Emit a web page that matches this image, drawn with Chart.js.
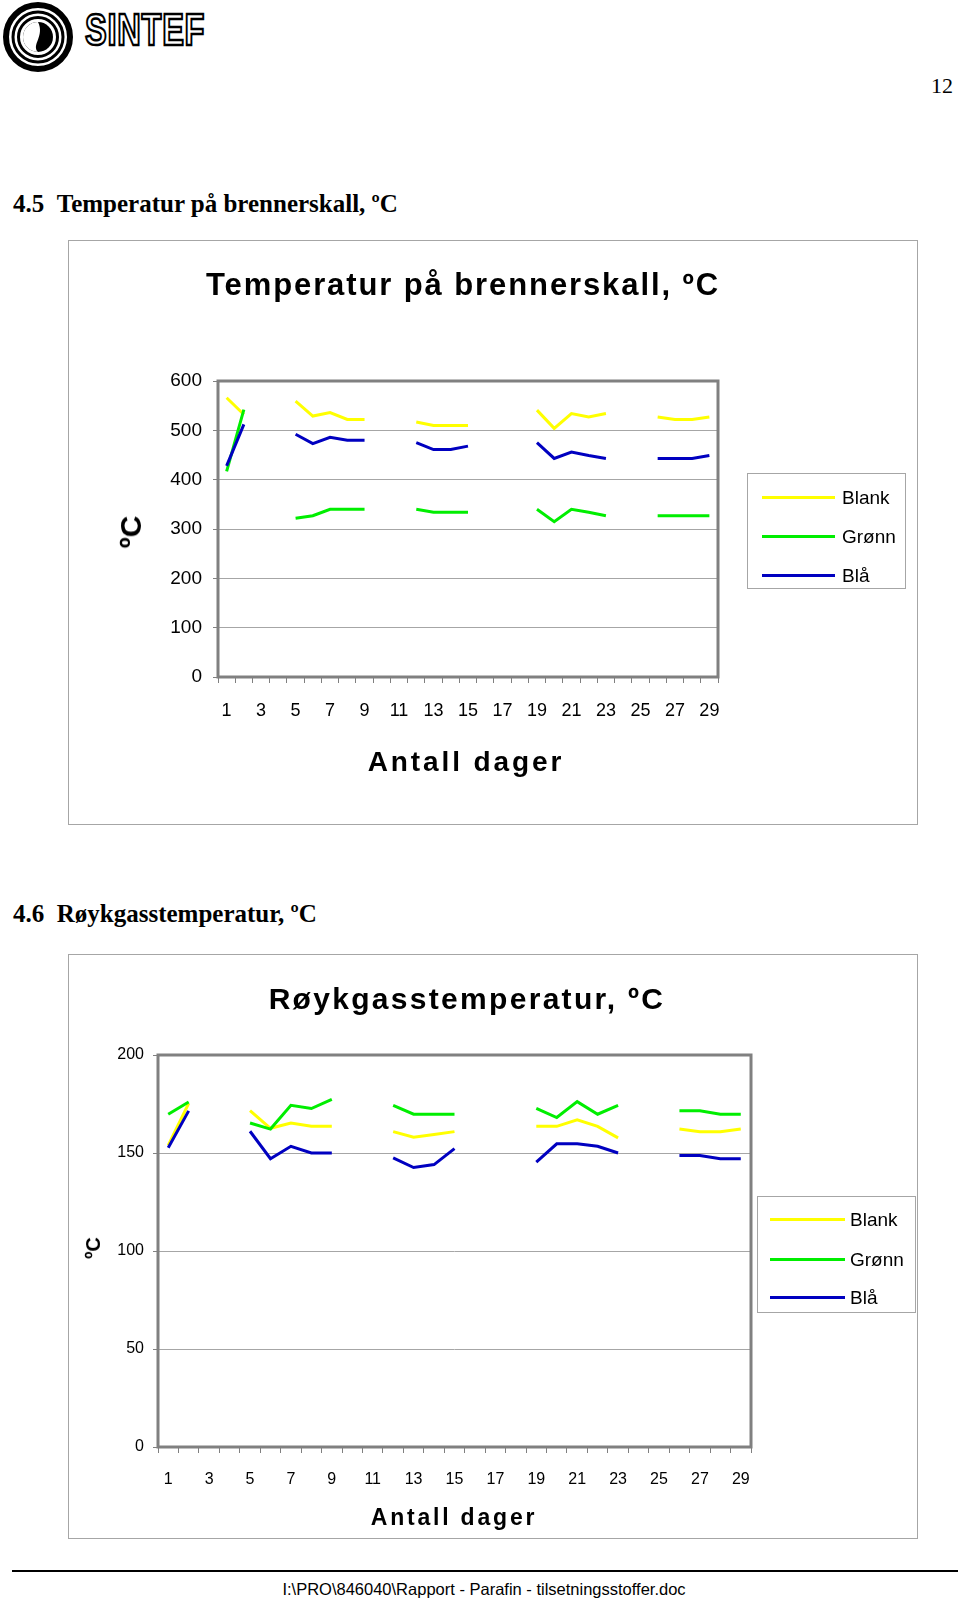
<!DOCTYPE html>
<html>
<head>
<meta charset="utf-8">
<script src="https://cdn.jsdelivr.net/npm/chart.js@4.4.1/dist/chart.umd.min.js"></script>
<style>
  html, body { margin:0; padding:0; background:#fff; }
  body { width:960px; height:1601px; position:relative; overflow:hidden; font-family:'Liberation Sans', Arial, sans-serif; color:#000; }
  .abs { position:absolute; white-space:nowrap; }
  .serif { font-family:'Liberation Serif','Times New Roman',serif; }
  .box { position:absolute; border:1px solid #a6a6a6; box-sizing:border-box; }
  .legline { position:absolute; height:3px; }
  canvas { position:absolute; }
</style>
</head>
<body>
<script>
// ---- data ----
const days = [1,2,3,4,5,6,7,8,9,10,11,12,13,14,15,16,17,18,19,20,21,22,23,24,25,26,27,28,29];
const xTickLabels = ['1','3','5','7','9','11','13','15','17','19','21','23','25','27','29'];
const seriesNames = ['Blank','Grønn','Blå'];

// Temperatur på brennerskall
const blankShell = [566,532,null,null,559,529,536,522,522,null,null,517,510,510,510,null,null,null,541,504,534,527,534,null,null,527,522,522,527];
const gronnShell = [417,542,null,null,322,327,340,340,340,null,null,340,334,334,334,null,null,null,340,315,340,334,327,null,null,327,327,327,327];
const blaShell   = [428,512,null,null,492,473,486,480,480,null,null,475,461,461,468,null,null,null,475,443,456,449,443,null,null,443,443,443,449];
const shellYTicks = [0,100,200,300,400,500,600];

// Røykgasstemperatur
const blankFlue = [153.9,175.3,null,null,171.6,162.6,165.3,163.6,163.6,null,null,160.9,158.1,159.4,160.9,null,null,null,163.6,163.6,166.9,163.6,157.7,null,null,162.2,160.9,160.9,162.2];
const gronnFlue = [169.8,176.0,null,null,165.3,162.2,174.3,172.7,177.4,null,null,174.3,169.8,169.8,169.8,null,null,null,172.8,168.1,176.2,169.8,174.3,null,null,171.5,171.5,169.8,169.8];
const blaFlue   = [152.7,171.5,null,null,161.1,147.1,153.4,150.0,150.0,null,null,147.5,142.6,144.1,152.2,null,null,null,145.3,154.7,154.7,153.4,150.0,null,null,148.7,148.7,147.1,147.1];
const flueYTicks = [0,50,100,150,200];
</script>

<!-- logo -->
<svg class="abs" style="left:0;top:0" width="80" height="78">
  <circle cx="38" cy="37" r="32" fill="none" stroke="#000" stroke-width="6"/>
  <circle cx="38" cy="37" r="25" fill="none" stroke="#000" stroke-width="3"/>
  <circle cx="38" cy="37" r="19.5" fill="none" stroke="#000" stroke-width="3"/>
  <circle cx="38" cy="37" r="15" fill="#000"/>
  <path d="M38,22 A15,15 0 0,0 38,52 C31,45 45,36 38,22 Z" fill="#fff"/>
</svg>
<div class="abs" style="left:85px;top:8px;font-family:'Liberation Sans Narrow','Arial Narrow','Liberation Sans',sans-serif;font-weight:bold;font-size:44px;line-height:1;color:#fff;-webkit-text-stroke:2.5px #000;transform:scaleX(0.74);transform-origin:left top;letter-spacing:1px;">SINTEF</div>

<div class="abs serif" style="right:7px;top:75px;font-size:22px;line-height:1;">12</div>

<div class="abs serif" style="left:13px;top:191px;font-size:25px;line-height:1;font-weight:bold;">4.5&nbsp;&nbsp;Temperatur på brennerskall, ºC</div>

<!-- chart 1 -->
<div class="box" style="left:68px;top:240px;width:850px;height:585px;"></div>
<canvas id="c1" width="850" height="585" style="left:68px;top:240px;"></canvas>
<div class="abs" style="left:0;width:926px;text-align:center;top:269px;font-size:31px;line-height:1;font-weight:bold;letter-spacing:1.9px;">Temperatur på brennerskall, ºC</div>
<div class="abs" style="left:131px;top:532px;font-size:30px;line-height:1;font-weight:bold;transform:translate(-50%,-50%) rotate(-90deg);">ºC</div>
<div class="abs" style="left:0;width:932px;text-align:center;top:748px;font-size:28px;line-height:1;font-weight:bold;letter-spacing:2.9px;">Antall dager</div>
<div class="box" style="left:747px;top:473px;width:159px;height:116px;"></div>
<div class="legline" style="left:762px;width:73px;top:496px;background:#ffff00;"></div>
<div class="legline" style="left:762px;width:73px;top:535px;background:#00ee00;"></div>
<div class="legline" style="left:762px;width:73px;top:574px;background:#0000c0;"></div>
<div class="abs" style="left:842px;top:488px;font-size:19px;line-height:1;">Blank</div>
<div class="abs" style="left:842px;top:527px;font-size:19px;line-height:1;">Grønn</div>
<div class="abs" style="left:842px;top:566px;font-size:19px;line-height:1;">Blå</div>

<div class="abs serif" style="left:13px;top:901px;font-size:25px;line-height:1;font-weight:bold;">4.6&nbsp;&nbsp;Røykgasstemperatur, ºC</div>

<!-- chart 2 -->
<div class="box" style="left:68px;top:954px;width:850px;height:585px;"></div>
<canvas id="c2" width="850" height="585" style="left:68px;top:954px;"></canvas>
<div class="abs" style="left:0;width:934px;text-align:center;top:984px;font-size:30px;line-height:1;font-weight:bold;letter-spacing:2.3px;">Røykgasstemperatur, ºC</div>
<div class="abs" style="left:93px;top:1248px;font-size:20px;line-height:1;font-weight:bold;transform:translate(-50%,-50%) rotate(-90deg);">ºC</div>
<div class="abs" style="left:0;width:908px;text-align:center;top:1506px;font-size:23px;line-height:1;font-weight:bold;letter-spacing:2.8px;">Antall dager</div>
<div class="box" style="left:757px;top:1196px;width:159px;height:117px;"></div>
<div class="legline" style="left:770px;width:75px;top:1218px;background:#ffff00;"></div>
<div class="legline" style="left:770px;width:75px;top:1258px;background:#00ee00;"></div>
<div class="legline" style="left:770px;width:75px;top:1296px;background:#0000c0;"></div>
<div class="abs" style="left:850px;top:1210px;font-size:19px;line-height:1;">Blank</div>
<div class="abs" style="left:850px;top:1250px;font-size:19px;line-height:1;">Grønn</div>
<div class="abs" style="left:850px;top:1288px;font-size:19px;line-height:1;">Blå</div>

<!-- footer -->
<div class="abs" style="left:12px;top:1570px;width:946px;height:2px;background:#000;"></div>
<div class="abs" style="left:0;width:968px;text-align:center;top:1581px;font-size:16.5px;line-height:1;">I:\PRO\846040\Rapport - Parafin - tilsetningsstoffer.doc</div>

<script>
const FONT = "'Liberation Sans', Arial, sans-serif";
const colors = ['#ffff00', '#00ee00', '#0000c0'];

const plotBorder = {
  id: 'plotBorder',
  beforeDatasetsDraw(chart) {
    const a = chart.chartArea, ctx = chart.ctx;
    ctx.save();
    ctx.strokeStyle = '#808080';
    ctx.lineWidth = 3;
    ctx.strokeRect(a.left, a.top, a.right - a.left, a.bottom - a.top);
    ctx.restore();
  }
};

function makeChart(id, series, yTicks, opt) {
  const datasets = series.map((d, i) => ({
    label: seriesNames[i],
    data: d,
    borderColor: colors[i],
    backgroundColor: colors[i],
    borderWidth: 3,
    pointRadius: 0,
    tension: 0,
    spanGaps: false,
    order: 2 - i
  }));
  return new Chart(document.getElementById(id), {
    type: 'line',
    data: { labels: days.map(String), datasets },
    plugins: [plotBorder],
    options: {
      responsive: false,
      animation: false,
      devicePixelRatio: 1,
      layout: { padding: opt.padding },
      plugins: { legend: { display: false }, tooltip: { enabled: false }, title: { display: false } },
      scales: {
        x: {
          type: 'category',
          offset: true,
          border: { display: false },
          grid: { display: true, drawOnChartArea: false, drawTicks: true, tickLength: 6, offset: true, tickColor: '#808080', color: '#808080' },
          ticks: {
            autoSkip: false, maxRotation: 0, minRotation: 0,
            padding: opt.xPad,
            color: '#000',
            font: { family: FONT, size: opt.xFont },
            callback: function(v, idx) {
              const l = this.getLabelForValue(v);
              return xTickLabels.includes(l) ? l : '';
            }
          },
          afterFit: s => { s.height = opt.xH; }
        },
        y: {
          min: yTicks[0],
          max: yTicks[yTicks.length - 1],
          border: { display: false },
          grid: { color: '#a6a6a6', lineWidth: 1, drawTicks: true, tickLength: 5, tickColor: '#808080' },
          afterBuildTicks: s => { s.ticks = yTicks.map(v => ({ value: v })); },
          ticks: {
            padding: opt.yPad,
            color: '#000',
            font: { family: FONT, size: opt.yFont }
          },
          afterFit: s => { s.width = opt.yW; }
        }
      }
    }
  });
}

makeChart('c1', [blankShell, gronnShell, blaShell], shellYTicks, {
  padding: { left: 90, top: 141, right: 200, bottom: 108 },
  xH: 40, yW: 60, xPad: 17, yPad: 11, xFont: 18, yFont: 19
});
makeChart('c2', [blankFlue, gronnFlue, blaFlue], flueYTicks, {
  padding: { left: 40, top: 101, right: 167, bottom: 52 },
  xH: 40, yW: 50, xPad: 17, yPad: 9, xFont: 16, yFont: 16
});
</script>
</body>
</html>
